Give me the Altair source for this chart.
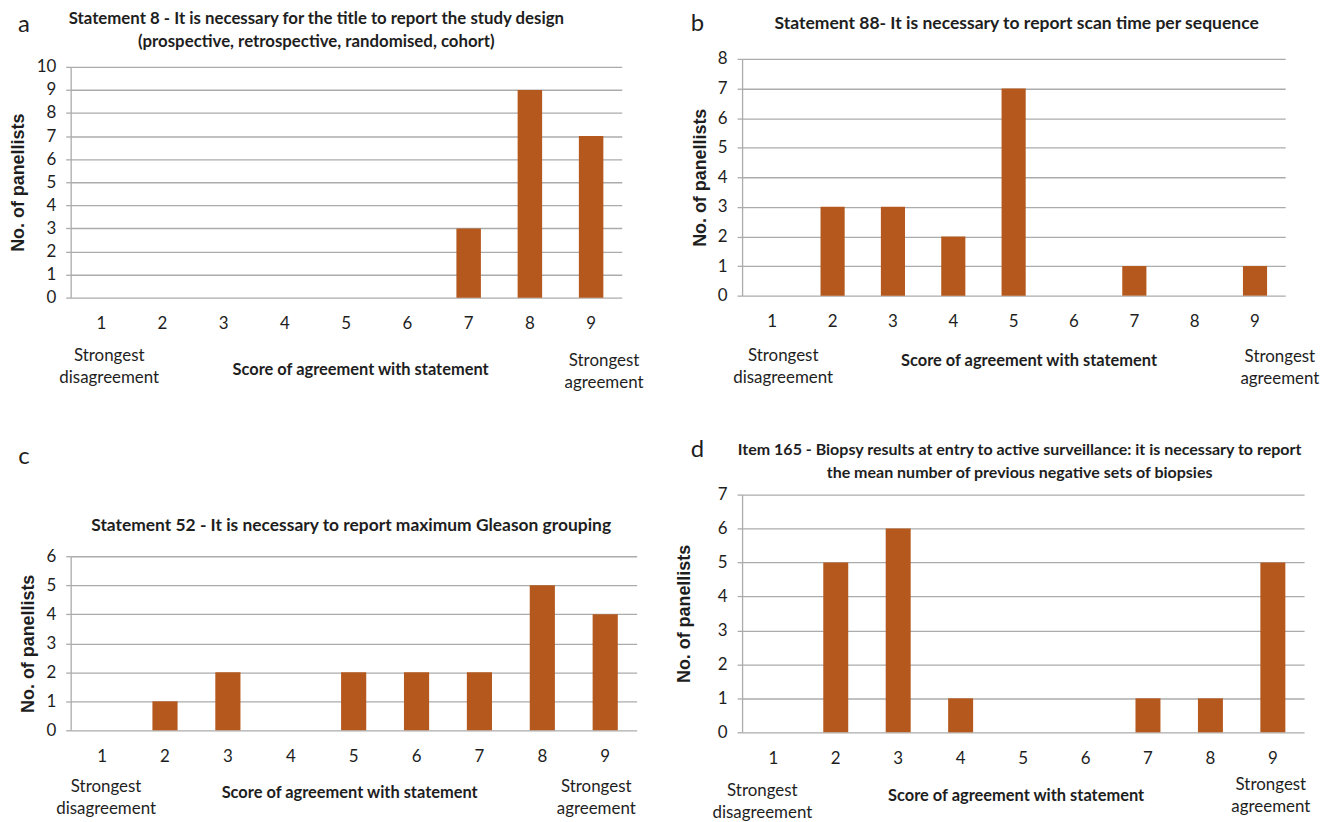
import altair as alt
import pandas as pd

# ---------------- data ----------------
scores = [1, 2, 3, 4, 5, 6, 7, 8, 9]
counts_a = [0, 0, 0, 0, 0, 0, 3, 9, 7]
counts_b = [0, 3, 3, 2, 7, 0, 1, 0, 1]
counts_c = [0, 1, 2, 0, 2, 2, 2, 5, 4]
counts_d = [0, 5, 6, 1, 0, 0, 1, 1, 5]

title_a = "Statement 8 - It is necessary for the title to report  the study design\n(prospective, retrospective, randomised, cohort)"
title_b = "Statement 88- It is necessary to report scan time per sequence"
title_c = "Statement 52 - It is necessary to report maximum Gleason grouping"
title_d = "Item 165 - Biopsy results at entry to active surveillance: it is necessary to report\nthe mean number of previous negative sets of biopsies"

ymax_a, ymax_b, ymax_c, ymax_d = 10, 8, 6, 7

x_title = "Score of agreement with statement"
y_title = "No. of panellists"
low_label = "Strongest\ndisagreement"
high_label = "Strongest\nagreement"

BAR = "#B5581D"
GRID = "#ABABAB"
TXT = "#1E1E1E"
FONT = "Lato"


def panel(counts, title, ymax, letter, W, H, title_xy, title_size, letter_xy,
          ytitle_pad, low_dx, low_dy, high_dx, high_dy, xt_x, xt_y, top_ext=0):
    df = pd.DataFrame({"score": scores, "count": counts})
    xenc = alt.X("score:O", scale=alt.Scale(paddingInner=0.6, paddingOuter=0.3),
                 axis=alt.Axis(labelAngle=0, domain=False, ticks=False,
                               labelPadding=18, labelFontSize=17, labelFont=FONT,
                               labelColor=TXT, title=x_title, titleFont=FONT,
                               titleFontSize=16.5, titleFontWeight="bold",
                               titleColor=TXT, titleX=xt_x, titleY=xt_y,
                               titleBaseline="middle"))
    bars = alt.Chart(df).mark_bar(color=BAR).encode(
        x=xenc,
        y=alt.Y("count:Q",
                scale=alt.Scale(domain=[0, ymax], nice=False, range=[H, -top_ext]),
                axis=alt.Axis(values=list(range(ymax + 1)), grid=True,
                              gridColor=GRID, gridWidth=1.3, domainColor=GRID,
                              domainWidth=1.3, tickColor=GRID, tickSize=5,
                              tickWidth=1.3, labelPadding=10, labelFontSize=17,
                              labelFont=FONT, labelColor=TXT, title=y_title,
                              titleFont="Liberation Sans", titleFontSize=18,
                              titleFontWeight="bold", titleColor=TXT,
                              titlePadding=ytitle_pad)),
    )
    ann = pd.DataFrame({"score": [1], "label": [low_label]})
    ann2 = pd.DataFrame({"score": [9], "label": [high_label]})
    low = alt.Chart(ann).mark_text(
        font=FONT, fontSize=17, color=TXT, lineBreak="\n", lineHeight=22,
        baseline="middle", align="center", dx=low_dx
    ).encode(x=xenc, y=alt.value(H + low_dy), text="label:N")
    high = alt.Chart(ann2).mark_text(
        font=FONT, fontSize=17, color=TXT, lineBreak="\n", lineHeight=22,
        baseline="middle", align="center", dx=high_dx
    ).encode(x=xenc, y=alt.value(H + high_dy), text="label:N")
    let = alt.Chart(pd.DataFrame({"t": [letter]})).mark_text(
        font=FONT, fontSize=24, color=TXT, baseline="middle", align="center"
    ).encode(x=alt.value(letter_xy[0]), y=alt.value(letter_xy[1] - top_ext), text="t:N")
    ttl = alt.Chart(pd.DataFrame({"t": [title]})).mark_text(
        font=FONT, fontSize=title_size, fontWeight="bold", color=TXT,
        lineBreak="\n", lineHeight=23, baseline="middle", align="center"
    ).encode(x=alt.value(title_xy[0]), y=alt.value(title_xy[1] - top_ext), text="t:N")
    return alt.layer(bars, low, high, let, ttl).properties(width=W, height=H)


# panels
pa = panel(counts_a, title_a, ymax_a, "a", 554, 232, (247, -48), 16.9, (-47, -42), 9,
           8, 59, 13, 64, 291, 72)
pc = panel(counts_c, title_c, ymax_c, "c", 569, 175, (282, -30), 17.5, (-47, -100), 9,
           4, 57, -9, 57, 280, 63)
pb = panel(counts_b, title_b, ymax_b, "b", 546, 230, (276, -35), 17.6, (-45, -35), 8,
           11, 61, 25, 62, 288, 65, top_ext=8)
pd_ = panel(counts_d, title_d, ymax_d, "d", 565, 239, (279, -45), 16.1, (-45, -45), 24,
            -11, 59, -2, 53, 275, 64)

col1 = alt.vconcat(pa, pc, spacing=54)
col2 = alt.vconcat(pb, pd_, spacing=51)

chart = alt.hconcat(col1, col2, spacing=32).configure_view(strokeWidth=0).properties(
    padding={"left": 1, "top": 0, "right": 0, "bottom": 0}
)

chart.save("out.html", embed_options={"renderer": "svg", "actions": False})
